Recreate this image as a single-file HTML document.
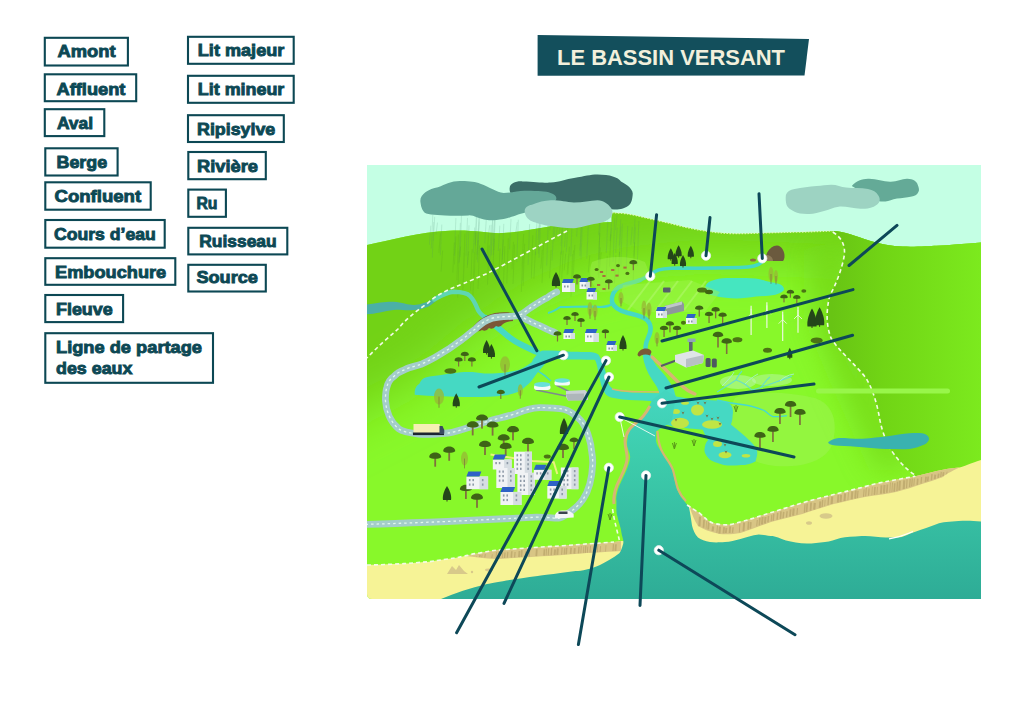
<!DOCTYPE html>
<html><head><meta charset="utf-8">
<style>
html,body{margin:0;padding:0;background:#fff;}
body{width:1024px;height:724px;overflow:hidden;position:relative;}
svg{position:absolute;left:0;top:0;}
.lb{font-family:"Liberation Sans",sans-serif;font-weight:bold;font-size:17.4px;fill:#0c4854;stroke:#0c4854;stroke-width:0.9px;}
.bx{fill:none;stroke:#0c4854;stroke-width:2.1;}
.pl{stroke:#0d4858;stroke-width:3;stroke-linecap:round;fill:none;}
.rd{fill:none;stroke:#a4cdca;stroke-width:6.8;stroke-linecap:round;stroke-linejoin:round;}
.rdd{fill:none;stroke:#e2faec;stroke-width:1.3;stroke-dasharray:2.5 3;}
.wl{fill:none;stroke:#f2fbe6;stroke-width:1.6;stroke-dasharray:4 3;}
.tr{fill:#2f5a12;}
</style></head>
<body>
<svg width="1024" height="724" viewBox="0 0 1024 724">
<defs>
  <clipPath id="ill"><path d="M367 165H981V599H372Q367 599 367 594Z"/></clipPath>
  <clipPath id="landclip"><path d="M367 245 C390 240 420 232 449 230.7 C475 229.5 490 234 503 233 C520 232 535 229 552 226 L580 222 L600 222.5 L611.7 222 L611.7 212.7 C620 213 625 213.5 629.3 214.2 C636 215.5 642 217 648.8 218.5 C655 220 662 221.5 668.4 223 C678 225.5 688 228 697.7 229.8 C710 232 722 233.5 736 233.7 C755 233.5 775 232.5 794 232.2 C808 232 820 231.5 832.5 231 C845 231.5 855 236 869.8 240.7 C880 244 892 246 903 246.5 C915 247 930 246 936.2 245.7 C950 245 965 243.5 981 242.4 L981 599 L367 599 Z"/></clipPath>
  <clipPath id="rclip"><path d="M832.5 231 C845 231.5 855 236 869.8 240.7 C880 244 892 246 903 246.5 C915 247 930 246 936.2 245.7 C950 245 965 243.5 981 242.4 L981 599 L915 599 L915 475 C910 472 903 466 897 458 C890 450 882 435 879 415 C876 400 872 388 866 378 C855 364 838 350 831 338 C826 325 826 310 830 295 C836 285 842 268 844 257 C846 246 842 238 832.5 231 Z"/></clipPath>
  <filter id="bl18" x="-30%" y="-30%" width="160%" height="160%"><feGaussianBlur stdDeviation="16"/></filter>
  <filter id="bl26" x="-30%" y="-30%" width="160%" height="160%"><feGaussianBlur stdDeviation="26"/></filter>
  <filter id="bl6" x="-30%" y="-30%" width="160%" height="160%"><feGaussianBlur stdDeviation="6"/></filter>
  <linearGradient id="hillr" x1="832" y1="0" x2="981" y2="0" gradientUnits="userSpaceOnUse">
    <stop offset="0" stop-color="#68c414"/>
    <stop offset="0.35" stop-color="#71d515"/>
    <stop offset="1" stop-color="#7cea1e"/>
  </linearGradient>
  <linearGradient id="sea" x1="0" y1="395" x2="0" y2="599" gradientUnits="userSpaceOnUse">
    <stop offset="0" stop-color="#44d6bf"/>
    <stop offset="0.3" stop-color="#3dcdac"/>
    <stop offset="1" stop-color="#2eac96"/>
  </linearGradient>
</defs>
<g id="labels"><rect class="bx" x="44.8" y="37.8" width="83.1" height="27.7"/>
<text class="lb" x="57.5" y="57.2" textLength="58.1" lengthAdjust="spacingAndGlyphs">Amont</text>
<rect class="bx" x="44.8" y="74.3" width="91.4" height="26.9"/>
<text class="lb" x="56.5" y="94.9" textLength="68.9" lengthAdjust="spacingAndGlyphs">Affluent</text>
<rect class="bx" x="44.8" y="109.2" width="59.5" height="26.9"/>
<text class="lb" x="56.9" y="128.6" textLength="36.2" lengthAdjust="spacingAndGlyphs">Aval</text>
<rect class="bx" x="45.3" y="148.3" width="72.3" height="27.2"/>
<text class="lb" x="56.5" y="168.2" textLength="50.7" lengthAdjust="spacingAndGlyphs">Berge</text>
<rect class="bx" x="45.3" y="182.3" width="105.4" height="27.4"/>
<text class="lb" x="54.5" y="201.9" textLength="86.6" lengthAdjust="spacingAndGlyphs">Confluent</text>
<rect class="bx" x="45.3" y="220.0" width="119.4" height="27.7"/>
<text class="lb" x="53.9" y="239.6" textLength="102.0" lengthAdjust="spacingAndGlyphs">Cours d’eau</text>
<rect class="bx" x="45.3" y="258.2" width="130.0" height="26.6"/>
<text class="lb" x="55.0" y="277.6" textLength="111.2" lengthAdjust="spacingAndGlyphs">Embouchure</text>
<rect class="bx" x="45.3" y="295.0" width="77.8" height="27.1"/>
<text class="lb" x="56.0" y="315.4" textLength="56.6" lengthAdjust="spacingAndGlyphs">Fleuve</text>
<rect class="bx" x="45.3" y="333.2" width="167.7" height="49.6"/>
<text class="lb" x="56.0" y="353.0" textLength="146.0" lengthAdjust="spacingAndGlyphs">Ligne de partage</text>
<text class="lb" x="56.0" y="374.2" textLength="76.4" lengthAdjust="spacingAndGlyphs">des eaux</text>
<rect class="bx" x="188.0" y="36.8" width="105.7" height="27.0"/>
<text class="lb" x="197.8" y="56.1" textLength="86.5" lengthAdjust="spacingAndGlyphs">Lit majeur</text>
<rect class="bx" x="188.0" y="75.8" width="105.7" height="27.0"/>
<text class="lb" x="197.8" y="95.1" textLength="86.5" lengthAdjust="spacingAndGlyphs">Lit mineur</text>
<rect class="bx" x="188.0" y="115.2" width="95.8" height="26.8"/>
<text class="lb" x="197.0" y="134.9" textLength="78.3" lengthAdjust="spacingAndGlyphs">Ripisylve</text>
<rect class="bx" x="188.3" y="152.0" width="77.5" height="27.2"/>
<text class="lb" x="197.0" y="171.6" textLength="61.0" lengthAdjust="spacingAndGlyphs">Rivière</text>
<rect class="bx" x="188.3" y="189.6" width="37.6" height="27.2"/>
<text class="lb" x="196.4" y="208.6" textLength="21.1" lengthAdjust="spacingAndGlyphs">Ru</text>
<rect class="bx" x="188.3" y="227.8" width="99.0" height="26.6"/>
<text class="lb" x="199.2" y="246.8" textLength="77.5" lengthAdjust="spacingAndGlyphs">Ruisseau</text>
<rect class="bx" x="188.3" y="264.8" width="77.5" height="26.7"/>
<text class="lb" x="196.4" y="283.2" textLength="61.6" lengthAdjust="spacingAndGlyphs">Source</text></g>
<g id="title">
  <path d="M537.6 35L809 39L804.5 75.5L537.6 75.7Z" fill="#134f5c"/>
  <text x="557" y="65.2" font-family="Liberation Sans" font-weight="bold" font-size="22" fill="#f2f0dc" textLength="228" lengthAdjust="spacingAndGlyphs">LE BASSIN VERSANT</text>
</g>
<g clip-path="url(#ill)"><rect x="367" y="165" width="614" height="434" fill="#c4ffe4"/>
<path d="M367 245 C390 240 420 232 449 230.7 C475 229.5 490 234 503 233 C520 232 535 229 552 226 L580 222 L600 222.5 L611.7 222 L611.7 212.7 C620 213 625 213.5 629.3 214.2 C636 215.5 642 217 648.8 218.5 C655 220 662 221.5 668.4 223 C678 225.5 688 228 697.7 229.8 C710 232 722 233.5 736 233.7 C755 233.5 775 232.5 794 232.2 C808 232 820 231.5 832.5 231 C845 231.5 855 236 869.8 240.7 C880 244 892 246 903 246.5 C915 247 930 246 936.2 245.7 C950 245 965 243.5 981 242.4 L981 599 L367 599 Z" fill="#88f82a"/>
<g clip-path="url(#landclip)"><path filter="url(#bl26)" fill="#72d214" d="M300 120 L1000 120 L1000 262 L840 262 L700 256 L610 266 L545 288 L480 328 L420 378 L300 440 Z"/></g>
<g clip-path="url(#landclip)"><path filter="url(#bl18)" fill="#70d016" opacity="0.8" d="M840 240 L850 300 L880 390 L910 470 L880 470 L840 380 L815 320 L815 250 Z"/></g>
<path d="M832.5 231 C845 231.5 855 236 869.8 240.7 C880 244 892 246 903 246.5 C915 247 930 246 936.2 245.7 C950 245 965 243.5 981 242.4 L981 599 L915 599 L915 475 C910 472 903 466 897 458 C890 450 882 435 879 415 C876 400 872 388 866 378 C855 364 838 350 831 338 C826 325 826 310 830 295 C836 285 842 268 844 257 C846 246 842 238 832.5 231 Z" fill="url(#hillr)"/>
<g stroke="#4f8a72" stroke-width="0.6" opacity="0.28">
<line x1="479.2" y1="221.6" x2="477.7" y2="244.6"/>
<line x1="557.8" y1="222.8" x2="556.3" y2="235.1"/>
<line x1="430.8" y1="225.7" x2="429.3" y2="244.8"/>
<line x1="478.4" y1="227.9" x2="476.9" y2="254.4"/>
<line x1="607.8" y1="220.7" x2="606.3" y2="253.0"/>
<line x1="460.4" y1="222.9" x2="458.9" y2="263.3"/>
<line x1="540.5" y1="224.4" x2="539.0" y2="257.9"/>
<line x1="441.8" y1="224.6" x2="440.3" y2="255.3"/>
<line x1="492.8" y1="214.4" x2="491.3" y2="254.7"/>
<line x1="529.6" y1="224.1" x2="528.1" y2="264.8"/>
<line x1="581.5" y1="226.9" x2="580.0" y2="250.7"/>
<line x1="600.2" y1="220.2" x2="598.7" y2="263.0"/>
<line x1="617.0" y1="215.4" x2="615.5" y2="230.1"/>
<line x1="474.7" y1="227.5" x2="473.2" y2="252.8"/>
<line x1="562.7" y1="218.2" x2="561.2" y2="246.0"/>
<line x1="511.0" y1="218.9" x2="509.5" y2="249.4"/>
<line x1="553.6" y1="226.7" x2="552.1" y2="260.5"/>
<line x1="627.7" y1="226.0" x2="626.2" y2="270.7"/>
<line x1="572.3" y1="216.3" x2="570.8" y2="256.4"/>
<line x1="635.4" y1="226.7" x2="633.9" y2="256.6"/>
<line x1="581.5" y1="217.0" x2="580.0" y2="256.1"/>
<line x1="551.3" y1="218.0" x2="549.8" y2="230.2"/>
<line x1="611.6" y1="227.9" x2="610.1" y2="241.0"/>
<line x1="600.1" y1="219.7" x2="598.6" y2="235.0"/>
<line x1="491.2" y1="224.8" x2="489.7" y2="265.3"/>
<line x1="437.5" y1="222.6" x2="436.0" y2="234.2"/>
<line x1="582.5" y1="218.6" x2="581.0" y2="259.5"/>
<line x1="638.8" y1="221.1" x2="637.3" y2="266.0"/>
<line x1="494.6" y1="215.1" x2="493.1" y2="246.1"/>
<line x1="434.7" y1="216.8" x2="433.2" y2="241.0"/>
<line x1="559.3" y1="216.2" x2="557.8" y2="227.7"/>
<line x1="614.6" y1="218.4" x2="613.1" y2="261.9"/>
<line x1="620.8" y1="219.3" x2="619.3" y2="245.4"/>
<line x1="539.8" y1="223.0" x2="538.3" y2="253.9"/>
<line x1="548.2" y1="222.7" x2="546.7" y2="265.6"/>
<line x1="537.0" y1="220.0" x2="535.5" y2="255.2"/>
<line x1="479.1" y1="218.2" x2="477.6" y2="262.4"/>
<line x1="540.0" y1="221.7" x2="538.5" y2="232.1"/>
<line x1="517.3" y1="222.1" x2="515.8" y2="232.8"/>
<line x1="560.4" y1="222.9" x2="558.9" y2="235.0"/>
<line x1="562.9" y1="220.5" x2="561.4" y2="254.3"/>
<line x1="503.8" y1="223.9" x2="502.3" y2="259.7"/>
<line x1="432.8" y1="214.8" x2="431.3" y2="248.5"/>
<line x1="635.1" y1="217.5" x2="633.6" y2="243.5"/>
<line x1="555.4" y1="218.5" x2="553.9" y2="241.2"/>
<line x1="495.2" y1="219.2" x2="493.7" y2="250.0"/>
<line x1="492.6" y1="219.3" x2="491.1" y2="256.3"/>
<line x1="433.8" y1="222.0" x2="432.3" y2="257.7"/>
<line x1="494.7" y1="217.1" x2="493.2" y2="255.2"/>
<line x1="479.3" y1="216.6" x2="477.8" y2="241.9"/>
<line x1="578.1" y1="215.4" x2="576.6" y2="236.7"/>
<line x1="499.8" y1="225.7" x2="498.3" y2="251.0"/>
<line x1="611.9" y1="216.4" x2="610.4" y2="238.2"/>
<line x1="567.8" y1="226.4" x2="566.3" y2="252.2"/>
<line x1="476.4" y1="215.7" x2="474.9" y2="244.2"/>
<line x1="469.0" y1="225.3" x2="467.5" y2="264.6"/>
<line x1="467.5" y1="217.9" x2="466.0" y2="256.2"/>
<line x1="566.0" y1="225.3" x2="564.5" y2="247.4"/>
<line x1="455.9" y1="218.1" x2="454.4" y2="255.9"/>
<line x1="486.3" y1="218.8" x2="484.8" y2="243.4"/>
<line x1="518.3" y1="219.7" x2="516.8" y2="262.0"/>
<line x1="461.5" y1="214.1" x2="460.0" y2="257.1"/>
<line x1="617.2" y1="227.8" x2="615.7" y2="253.0"/>
<line x1="632.3" y1="227.0" x2="630.8" y2="244.8"/>
<line x1="588.3" y1="225.7" x2="586.8" y2="258.9"/>
<line x1="539.6" y1="218.0" x2="538.1" y2="240.0"/>
<line x1="476.9" y1="215.0" x2="475.4" y2="245.6"/>
<line x1="489.7" y1="225.3" x2="488.2" y2="236.9"/>
<line x1="622.3" y1="223.7" x2="620.8" y2="266.0"/>
<line x1="620.8" y1="226.6" x2="619.3" y2="256.8"/>
</g><g stroke="#4e9a1e" stroke-width="1" opacity="0.18">
<line x1="442.6" y1="250.6" x2="441.1" y2="271.6"/>
<line x1="500.0" y1="248.6" x2="498.5" y2="281.9"/>
<line x1="522.8" y1="255.5" x2="521.3" y2="291.9"/>
<line x1="508.3" y1="238.3" x2="506.8" y2="283.5"/>
<line x1="535.4" y1="251.6" x2="533.9" y2="278.9"/>
<line x1="479.5" y1="245.4" x2="478.0" y2="289.0"/>
<line x1="474.3" y1="251.8" x2="472.8" y2="299.1"/>
<line x1="601.2" y1="252.6" x2="599.7" y2="267.9"/>
<line x1="565.7" y1="253.6" x2="564.2" y2="270.3"/>
<line x1="494.3" y1="238.7" x2="492.8" y2="272.2"/>
<line x1="524.6" y1="243.8" x2="523.1" y2="286.0"/>
<line x1="440.4" y1="233.4" x2="438.9" y2="252.8"/>
<line x1="464.9" y1="233.7" x2="463.4" y2="282.8"/>
<line x1="610.9" y1="234.2" x2="609.4" y2="266.7"/>
<line x1="503.2" y1="239.9" x2="501.7" y2="267.2"/>
<line x1="569.4" y1="246.7" x2="567.9" y2="274.3"/>
<line x1="478.2" y1="240.2" x2="476.7" y2="259.6"/>
<line x1="551.1" y1="249.9" x2="549.6" y2="278.2"/>
<line x1="456.0" y1="236.5" x2="454.5" y2="264.5"/>
<line x1="560.9" y1="251.6" x2="559.4" y2="279.9"/>
<line x1="600.2" y1="247.6" x2="598.7" y2="277.7"/>
<line x1="514.5" y1="244.4" x2="513.0" y2="284.0"/>
<line x1="524.1" y1="249.4" x2="522.6" y2="280.5"/>
<line x1="489.0" y1="245.4" x2="487.5" y2="284.7"/>
<line x1="454.3" y1="242.6" x2="452.8" y2="272.5"/>
<line x1="615.9" y1="255.4" x2="614.4" y2="283.5"/>
<line x1="619.6" y1="251.8" x2="618.1" y2="275.9"/>
<line x1="532.8" y1="235.1" x2="531.3" y2="278.5"/>
<line x1="572.5" y1="254.2" x2="571.0" y2="296.9"/>
<line x1="573.5" y1="250.3" x2="572.0" y2="285.1"/>
<line x1="460.6" y1="246.7" x2="459.1" y2="261.9"/>
<line x1="468.7" y1="251.4" x2="467.2" y2="267.9"/>
<line x1="458.4" y1="234.5" x2="456.9" y2="280.3"/>
<line x1="475.8" y1="232.6" x2="474.3" y2="277.0"/>
<line x1="464.3" y1="253.1" x2="462.8" y2="291.7"/>
<line x1="607.2" y1="255.8" x2="605.7" y2="291.1"/>
<line x1="599.7" y1="232.9" x2="598.2" y2="274.8"/>
<line x1="542.3" y1="249.9" x2="540.8" y2="268.6"/>
<line x1="589.8" y1="255.4" x2="588.3" y2="272.5"/>
<line x1="504.8" y1="246.1" x2="503.3" y2="290.1"/>
<line x1="488.4" y1="236.5" x2="486.9" y2="260.2"/>
<line x1="563.2" y1="250.8" x2="561.7" y2="279.6"/>
<line x1="513.5" y1="241.9" x2="512.0" y2="269.2"/>
<line x1="523.6" y1="234.1" x2="522.1" y2="266.6"/>
<line x1="634.6" y1="242.3" x2="633.1" y2="283.5"/>
<line x1="472.1" y1="249.3" x2="470.6" y2="290.7"/>
<line x1="574.8" y1="244.9" x2="573.3" y2="276.9"/>
<line x1="568.6" y1="254.4" x2="567.1" y2="274.7"/>
<line x1="459.2" y1="250.7" x2="457.7" y2="297.8"/>
<line x1="543.5" y1="243.1" x2="542.0" y2="283.2"/>
</g>
<path d="M611.7 212.7 C620 213 625 213.5 629.3 214.2 C636 215.5 642 217 648.8 218.5 C655 220 662 221.5 668.4 223 C678 225.5 688 228 697.7 229.8 C710 232 722 233.5 736 233.7 C755 233.5 775 232.5 794 232.2 C808 232 820 231.5 832.5 231" fill="none" stroke="#e6f6c0" stroke-width="1.3" stroke-dasharray="1.6 1.4" opacity="0.9"/>
<path fill="#9ef454" opacity="0.5" d="M735 398 C755 390 790 392 815 398 C835 405 838 425 832 445 C825 462 800 468 775 466 C755 464 740 455 735 440 C730 425 728 408 735 398 Z"/>
<path fill="#4bb0a6" d="M367 304.6 C378 303 386 301.5 393.6 301.8 C402 302.5 408 305 414 305 C420 305 425 302.5 428 301.8 C431 300 433 299 435 298.5 L436 301 C432 304 430 306 428 306.7 C422 309 418 310 414 310 C405 311 400 309 393.6 310 C385 311 375 314 367 314.3 Z"/>
<path fill="none" stroke="#5ed6b2" stroke-width="4.5" stroke-linecap="round" d="M434 299.5 C442 295 448 292 454 291.8 C462 292 467 293 470 296 C474 300 476 305 478 310 C480 314 483 316 486 318"/>
<path fill="none" stroke="#45d9c3" stroke-width="6" stroke-linecap="round" d="M486 318 C491 322 494 325 497 327 C501 330 505 334 509 337 C514 341 518 343 522 345 C528 348 532 350 537 352"/>
<path fill="#45d9c3" d="M414.7 391.6 C415 388 417 385 419.4 383.75 C421 380 423 378.5 425.6 377.5 C431 376 436 375.5 441.25 375 C447 374 452 373 457 372.8 C462 372 467 372 472.5 372 C478 372.5 483 373.5 488 373.6 C494 373.5 499 373 503.75 372.8 C509 372 514 371 519.4 369.7 C525 367 529 364 532 361.9 C533 359 534 358 535 357 C537 354.5 540 351 543 350.6 C550 350.3 558 350.6 567.3 351.6 C577 352 586 352 592 352.3 C596 353 598 354 598.8 355 C601 359 603 363 604.3 367.3 C606 373 607 379 608.4 383.75 C610 387 613 389.5 616.6 390.6 C622 392 628 392.5 635.7 392.6 C644 393 652 393 660.3 393.3 L663 401.5 C654 401.5 645 400.5 635.7 400.2 C627 400 618 399 611 397.4 C607 396 605 394 604.3 392 C602 388 601 385 600.2 381 C599 376 598 371 597.4 367.3 C596.5 364 596 361 594.7 359.8 C585 359.5 575 359.5 567 359.5 C560 359 555 359 550.6 358.75 C547 361 545 364 542.8 366.6 C540 370 537 373 535 376 C532 380 531 382 528.75 383.75 C525 387 522 390 519.4 391.6 C513 394 508 395 503.75 395.5 C495 396.5 485 397 472.5 397 C460 397 450 396.5 441.25 396.25 C432 396 422 395.5 414.7 394.7 Z"/>
<path fill="none" stroke="#45d9c3" stroke-width="1.5" d="M538 371 C543 374 547 377 551 381"/>
<path fill="none" stroke="#45d9c3" stroke-width="3.5" stroke-linecap="round" d="M762 262 C758 266 752 267 740 267.5 C720 268 700 268.5 680 268 C668 268 660 268.5 655 271.5 C650 275 645 278 640 280"/>
<path fill="none" stroke="#45d9c3" stroke-width="4.5" stroke-linecap="round" d="M640 280 C632 283 625 284 619 287 C614 290 611 296 612 302 C614 308 620 311 628 313 C636 315 642 316 647 320 C652 325 651 332 648 338 C645 344 645 349 646 354"/>
<path fill="#45d9c3" d="M642 352 L650 352 C652 360 656 366 662 372 C667 378 671 383 674 390 L676 398 L660 399 C660 393 658 388 655 384 C650 377 646 370 644 362 Z"/>
<path fill="none" stroke="#45d9c3" stroke-width="2.2" d="M560 307 C575 307 590 306 600 307 C606 307 610 306 614 303"/>
<path fill="none" stroke="#45d9c3" stroke-width="1.8" d="M560 307 C556 310 553 312 548 313"/>
<path fill="#45e6c0" d="M705.2 286.9 C706 284 708 282 711 281 C716 279 721 278 726.7 278 C733 278 740 278 746.25 278 C753 278 760 279 765.8 281 C772 282.5 778 283 781.4 285 C784 287 784.5 289 783.4 290.8 C781 293 778 294 775.5 294.7 C769 296 762 296 756 296.6 C750 297.5 743 298.6 736.5 298.6 C729 298.6 722 297.5 717 296.6 C712 295.5 709 294.5 707 292.7 C705.5 291 705 289 705.2 286.9 Z"/>
<path fill="#45d9c3" d="M660 393 C663 394 665 394.5 667.6 394.6 C673 396 679 397.5 685 398 C691 399 697 399.5 702.7 400 C709 400 715 400.5 720.3 400.8 C725 401.5 729 403 730.9 405 C733 408 733.5 412 732.6 415.7 C732.5 419 732 422 730.9 424.5 C738 430 745 436 750 441 C755 446 758 450 757.2 454.4 C756.5 458 756 460 755.5 461.4 C750 464 746 465 741.4 465 C735 465.5 729 466 723.8 465 C717 463 712 461.5 709.8 459.6 C706 456 704 452 704.5 449 C705 445 706 442 708 440.3 C705 436 704 432 702.7 429.8 C696 429 690 428.5 685 428 C680 427.5 676 427 672.8 426.2 C668 425 664 424 660.5 422.7 Z"/>
<ellipse cx="676" cy="411.5" rx="4" ry="2.5" fill="#c0e545"/>
<ellipse cx="680" cy="423" rx="9" ry="5.2" fill="#c0e545"/>
<ellipse cx="697.5" cy="410" rx="6.5" ry="5.5" fill="#c0e545"/>
<ellipse cx="712" cy="424.5" rx="10" ry="4.3" fill="#c0e545"/>
<ellipse cx="717.5" cy="444" rx="4.5" ry="3" fill="#c0e545"/>
<ellipse cx="725" cy="455" rx="6.5" ry="3.2" fill="#c0e545"/>
<ellipse cx="746" cy="455.7" rx="4.3" ry="1.8" fill="#c0e545"/>
<ellipse cx="685" cy="403" rx="4" ry="1.8" fill="#c0e545"/>
<path fill="#7a6a3a" d="M681.5 411.5 L683 414.5 L684.5 411.5 L683 412.5Z"/>
<path fill="#7a6a3a" d="M705.5 414.5 L707 417.5 L708.5 414.5 L707 415.5Z"/>
<path fill="#7a6a3a" d="M710.5 417.5 L712 420.5 L713.5 417.5 L712 418.5Z"/>
<path fill="#7a6a3a" d="M716.5 416.5 L718 419.5 L719.5 416.5 L718 417.5Z"/>
<path fill="#7a6a3a" d="M718.5 422.5 L720 425.5 L721.5 422.5 L720 423.5Z"/>
<path fill="#7a6a3a" d="M723.5 443.5 L725 446.5 L726.5 443.5 L725 444.5Z"/>
<path fill="#7a6a3a" d="M696.5 401.5 L698 404.5 L699.5 401.5 L698 402.5Z"/>
<path fill="#7a6a3a" d="M703.5 401.5 L705 404.5 L706.5 401.5 L705 402.5Z"/>
<path fill="#7a6a3a" d="M724.5 450.5 L726 453.5 L727.5 450.5 L726 451.5Z"/>
<path fill="#7a6a3a" d="M674.5 418.5 L676 421.5 L677.5 418.5 L676 419.5Z"/>
<path fill="none" stroke="#46d8d0" stroke-width="1.3" d="M716.8 400 C725 402 735 404 745 405 C752 406 758 408 764 410.4 C768 413 770 416 773 416.6 C778 417 783 416 787 415.7"/>
<ellipse cx="738" cy="382" rx="18" ry="7" fill="#c6f6c8" opacity="0.45"/><ellipse cx="772" cy="380" rx="20" ry="6" fill="#c6f6c8" opacity="0.4"/>
<path fill="none" stroke="#5edcd0" stroke-width="1.1" opacity="0.9" d="M717 392 C724 388 730 384 736 380 M736 380 C738 376 740 373 742 371 M736 380 C742 382 748 386 752 390 M752 390 C760 388 768 385 776 382 C782 380 788 378 792 376 M760 388 C764 384 766 380 770 377"/>
<path fill="none" stroke="#a8f0e0" stroke-width="1" opacity="0.8" d="M722 386 C728 380 732 376 734 372 M745 384 C750 379 754 376 758 374 M780 381 C784 377 788 375 794 374"/>
<path d="M567 231 C540 245 510 262 486 274 C470 281 455 287 449 289.5 C440 294 434 297 428 303 C415 312 405 320 398 329 C388 338 376 348 367 358" class="wl"/>
<path d="M832.8 232 C842 238 846 246 844 257 C842 268 836 285 830 295 C826 310 826 325 831 338 C838 350 855 364 866 378 C872 388 876 400 879 415 C882 435 890 450 897 458 C903 466 910 472 915 475" class="wl"/>
<path fill="#7b5636" d="M473 327 C478 320 486 315 495 313 C501 312 507 312 513 313 L513 321 C509 321 506 322 503 324 Q500 328 496 326 Q493 330 489 328 Q486 332 482 330 Q479 332 476 331 Z"/>
<path class="rd" d="M360 524.5 C420 523 480 520 536 517.2 C550 517 556 519 559.5 518 C566 516 578 507 583 499.4 C588 492 592 480 592.7 464 C593 455 591 450 590.8 444.7 C589 437 587 431 585 427 C582 421 579 418 575 415.4 C570 411 565 409 559.5 408.6 C552 408 545 407.5 540 407.6 C530 408 522 411 516 413.7 C505 417 495 419 487 421.5 C472 426 458 432 448 433 C438 434 428 435 418.6 434 C410 433 403 432 399 429 C390 422 386 410 385.4 400 C385.5 393 386 390 386.8 387.5 C388 382 390 379 393.7 376.6 C397 373 401 371 404.6 369.7 C410 367 416 366 421 364.3 C426 362 430 360 434.7 357.4 C439 355 444 352 448.4 349.2 C453 346 457 343 462 339.6 C467 336 471 332 475.7 328.7 C479 325.5 483 322 486.6 320.5 C490 318.5 495 317.3 499 317 C503 316.6 507 316.5 511.3 316.4 C514 316.2 517 315.8 520 315 "/>
<path class="rd" stroke-width="4.6" d="M520 315 C524 313 527 310 530.3 307.9 C536 304 542 300 547.9 297.3 C551 295 554 293 556.7 292"/>
<path class="rd" stroke-width="4.5" d="M519 316 C525 318 530 322 539 325.4 C545 328 550 331 555 332.5"/>
<path class="rdd" d="M360 524.5 C420 523 480 520 536 517.2 C550 517 556 519 559.5 518 C566 516 578 507 583 499.4 C588 492 592 480 592.7 464 C593 455 591 450 590.8 444.7 C589 437 587 431 585 427 C582 421 579 418 575 415.4 C570 411 565 409 559.5 408.6 C552 408 545 407.5 540 407.6 C530 408 522 411 516 413.7 C505 417 495 419 487 421.5 C472 426 458 432 448 433 C438 434 428 435 418.6 434 C410 433 403 432 399 429 C390 422 386 410 385.4 400 C385.5 393 386 390 386.8 387.5 C388 382 390 379 393.7 376.6 C397 373 401 371 404.6 369.7 C410 367 416 366 421 364.3 C426 362 430 360 434.7 357.4 C439 355 444 352 448.4 349.2 C453 346 457 343 462 339.6 C467 336 471 332 475.7 328.7 C479 325.5 483 322 486.6 320.5 C490 318.5 495 317.3 499 317 C503 316.6 507 316.5 511.3 316.4 C514 316.2 517 315.8 520 315 "/>
<path class="rdd" stroke-width="1" d="M520 315 C524 313 527 310 530.3 307.9 C536 304 542 300 547.9 297.3 C551 295 554 293 556.7 292"/>
<path class="rdd" d="M519 316 C525 318 530 322 539 325.4 C545 328 550 331 555 332.5"/>
<path d="M367 565 C380 565 395 564 404 563.6 C415 563 422 562 429.5 561.7 C440 560 448 559 455 558 C460 557 464 556 467.6 555.4 C472 554 476 553.5 480.3 552.9 C490 551 493 550.5 496 550.3 C512 549 540 547 563 545.7 C585 544 600 543 614 542 L621 541 L627 541 L627 599 L367 599 Z" fill="#f6f396"/>
<path d="M687 505 C692 508 696 511 699.4 513 C705 518 709 522 712.7 523 C720 525 725 525 729 524.8 C735 524 738 522.5 740 522 C748 520 754 518 760 516 C780 510 800 503 820 498 C840 493 860 488 873.8 484.2 C885 481.5 895 480 901.4 478.7 C910 477 915 476.5 915.3 476.2 C925 474 935 471 943 469.7 C950 468.5 956 468 959.5 467.6 C965 466 970 463.5 981 460 L981 599 L684 599 Z" fill="#f6f396"/>
<path d="M652 400 C648 410 644 416 638.6 420 C632 426 628 430 627 443 C627 450 631 453 630 458.6 C629 466 624 476 619.3 485.7 C616 494 616 500 616.4 501 C616.5 508 616 512 617.4 516.6 C619 524 621 528 621.3 532 C622 537 624 540 623.2 543.7 C622 548 621 551 619.3 553.3 C613 558 606 562 600 565 C590 569 582 571 575.7 571 C560 573 545 575 537.7 576 C515 579 496 582 487 584 C470 588 455 593 441 599 L981 599 L981 521.5 C972 520.5 965 520.5 958.5 521 C950 521.5 942 522 937 524 C930 526.5 922 529.5 916 531.5 C908 534 903 537.5 898 537.5 C893 537.5 890 537.5 886 537.5 C878 537 870 535.5 861.6 536 C853 536.5 846 537 840.5 538 C835 539.5 830 542 825 542 C819 542.5 813 543.6 807 543.6 C799 543.5 792 542 786 540.5 C780 538.5 776 536 770.8 536 C765 535.5 762 534.5 758.7 534.5 C752 535 746 537.5 740.5 539 C735 540.5 730 542 725 542 C718 542.5 714 542.5 710 542 C705 541 701 539.5 698 537.5 C695 534 693 530 692 525.4 C691 518 690 512 688.9 507 C686 503 683 500 681.2 497.3 C678 492 676 488 675.4 483.8 C674 477 673 472 671.5 468.3 C668 462 664 457 661.8 452.8 C659 448 656 444 656 439.3 C656 436 656 433 656 431.6 C660 428 668 426 672 420 L676 396 L665 390 Z" fill="url(#sea)"/>
<path d="M465 556 C475 554 485 552 496 550.3 C512 549 540 547 563 545.7 C585 544 600 543 614 542 L621 541 L621 551 C605 552 585 553 563 555 C540 556.5 512 558 496 559 C485 558.5 475 557 465 556 Z" fill="#d8c585"/>
<path d="M687 505 C692 508 696 511 699.4 513 C705 518 709 522 712.7 523 C720 525 725 525 729 524.8 C735 524 738 522.5 740 522 C748 520 754 518 760 516 C780 510 800 503 820 498 C840 493 860 488 873.8 484.2 C885 481.5 895 480 901.4 478.7 C910 477 915 476.5 915.3 476.2 C925 474 935 471 943 469.7 C950 468.5 956 468 959.5 467.6 C950 472 945 475 943 477 C935 480 928 482 922 484 C913 487 904 490 896 492 C886 494 875 495.5 865 497 C855 499 845 501.5 833.75 504 C823 507 812 511 802.5 514 C792 517 781 519 771 522 C760 526 750 530 740.5 533 C733 534.5 725 534.5 719.4 534 C710 532 703 529 698 526 C694 520 692 514 690 508 Z" fill="#d8c585"/>
<g stroke="#b09a60" opacity="0.55">
<line x1="476.8" y1="556.6" x2="476.3" y2="556.6" stroke-width="0.9"/>
<line x1="480.1" y1="554.8" x2="479.6" y2="557.0" stroke-width="1.5"/>
<line x1="482.2" y1="554.5" x2="481.7" y2="557.2" stroke-width="0.9"/>
<line x1="485.3" y1="554.0" x2="484.8" y2="557.5" stroke-width="1.1"/>
<line x1="492.3" y1="554.4" x2="491.8" y2="558.1" stroke-width="0.9"/>
<line x1="496.5" y1="552.1" x2="496.0" y2="558.5" stroke-width="1.0"/>
<line x1="499.2" y1="551.9" x2="498.7" y2="558.3" stroke-width="1.6"/>
<line x1="502.8" y1="552.4" x2="502.3" y2="558.1" stroke-width="0.9"/>
<line x1="505.0" y1="552.5" x2="504.5" y2="558.0" stroke-width="1.4"/>
<line x1="507.8" y1="551.9" x2="507.3" y2="557.8" stroke-width="1.2"/>
<line x1="511.8" y1="551.2" x2="511.3" y2="557.6" stroke-width="1.6"/>
<line x1="515.1" y1="552.0" x2="514.6" y2="557.4" stroke-width="1.2"/>
<line x1="519.5" y1="551.0" x2="519.0" y2="557.1" stroke-width="1.9"/>
<line x1="521.9" y1="550.1" x2="521.4" y2="557.0" stroke-width="1.7"/>
<line x1="525.8" y1="551.5" x2="525.3" y2="556.7" stroke-width="1.2"/>
<line x1="529.5" y1="550.7" x2="529.0" y2="556.5" stroke-width="1.4"/>
<line x1="536.8" y1="549.1" x2="536.3" y2="556.1" stroke-width="1.8"/>
<line x1="544.5" y1="549.2" x2="544.0" y2="555.6" stroke-width="1.7"/>
<line x1="546.6" y1="548.7" x2="546.1" y2="555.5" stroke-width="1.0"/>
<line x1="548.7" y1="548.4" x2="548.2" y2="555.4" stroke-width="1.1"/>
<line x1="551.7" y1="548.1" x2="551.2" y2="555.2" stroke-width="1.4"/>
<line x1="555.1" y1="549.4" x2="554.6" y2="555.0" stroke-width="2.0"/>
<line x1="557.8" y1="548.3" x2="557.3" y2="554.8" stroke-width="2.0"/>
<line x1="562.1" y1="547.6" x2="561.6" y2="554.6" stroke-width="1.1"/>
<line x1="564.7" y1="548.3" x2="564.2" y2="554.4" stroke-width="1.2"/>
<line x1="566.7" y1="547.7" x2="566.2" y2="554.2" stroke-width="1.6"/>
<line x1="571.1" y1="547.6" x2="570.6" y2="553.9" stroke-width="1.7"/>
<line x1="574.8" y1="548.1" x2="574.3" y2="553.7" stroke-width="1.9"/>
<line x1="579.0" y1="546.8" x2="578.5" y2="553.4" stroke-width="1.4"/>
<line x1="581.3" y1="546.0" x2="580.8" y2="553.2" stroke-width="0.9"/>
<line x1="583.8" y1="546.4" x2="583.3" y2="553.1" stroke-width="0.9"/>
<line x1="585.8" y1="545.8" x2="585.3" y2="552.9" stroke-width="1.3"/>
<line x1="587.8" y1="546.6" x2="587.3" y2="552.8" stroke-width="1.0"/>
<line x1="590.5" y1="545.9" x2="590.0" y2="552.6" stroke-width="1.0"/>
<line x1="597.8" y1="544.8" x2="597.3" y2="552.1" stroke-width="0.9"/>
<line x1="600.6" y1="546.1" x2="600.1" y2="551.9" stroke-width="1.0"/>
<line x1="606.0" y1="545.2" x2="605.5" y2="551.5" stroke-width="0.8"/>
<line x1="613.5" y1="544.1" x2="613.0" y2="551.0" stroke-width="1.3"/>
<line x1="615.9" y1="544.3" x2="615.4" y2="550.9" stroke-width="1.9"/>
<line x1="700.0" y1="516.6" x2="699.4" y2="526.2" stroke-width="2.2"/>
<line x1="704.1" y1="519.7" x2="703.5" y2="527.8" stroke-width="1.8"/>
<line x1="706.7" y1="520.7" x2="706.1" y2="528.8" stroke-width="0.8"/>
<line x1="708.8" y1="522.1" x2="708.2" y2="529.5" stroke-width="1.8"/>
<line x1="713.2" y1="526.4" x2="712.6" y2="531.2" stroke-width="2.2"/>
<line x1="717.5" y1="525.5" x2="716.9" y2="532.8" stroke-width="1.1"/>
<line x1="720.0" y1="526.6" x2="719.4" y2="533.5" stroke-width="2.1"/>
<line x1="724.1" y1="527.1" x2="723.5" y2="533.3" stroke-width="1.9"/>
<line x1="726.4" y1="527.8" x2="725.8" y2="533.2" stroke-width="1.9"/>
<line x1="730.2" y1="526.3" x2="729.6" y2="533.0" stroke-width="1.9"/>
<line x1="733.1" y1="527.2" x2="732.5" y2="532.9" stroke-width="1.4"/>
<line x1="739.9" y1="523.8" x2="739.3" y2="532.5" stroke-width="1.0"/>
<line x1="744.1" y1="522.6" x2="743.5" y2="531.2" stroke-width="2.0"/>
<line x1="748.6" y1="521.6" x2="748.0" y2="529.6" stroke-width="1.6"/>
<line x1="750.9" y1="522.2" x2="750.3" y2="528.7" stroke-width="1.7"/>
<line x1="757.3" y1="520.0" x2="756.7" y2="526.4" stroke-width="1.1"/>
<line x1="759.9" y1="518.0" x2="759.3" y2="525.5" stroke-width="1.6"/>
<line x1="762.6" y1="517.0" x2="762.0" y2="524.5" stroke-width="2.1"/>
<line x1="765.5" y1="517.0" x2="764.9" y2="523.5" stroke-width="2.1"/>
<line x1="768.5" y1="515.9" x2="767.9" y2="522.4" stroke-width="1.5"/>
<line x1="771.8" y1="514.8" x2="771.2" y2="521.3" stroke-width="1.1"/>
<line x1="773.8" y1="513.7" x2="773.2" y2="520.8" stroke-width="1.5"/>
<line x1="777.7" y1="512.9" x2="777.1" y2="519.8" stroke-width="1.5"/>
<line x1="781.0" y1="511.4" x2="780.4" y2="518.9" stroke-width="1.6"/>
<line x1="783.7" y1="511.9" x2="783.1" y2="518.3" stroke-width="1.5"/>
<line x1="787.1" y1="511.2" x2="786.5" y2="517.4" stroke-width="1.4"/>
<line x1="790.6" y1="509.3" x2="790.0" y2="516.5" stroke-width="1.8"/>
<line x1="793.7" y1="508.3" x2="793.1" y2="515.7" stroke-width="2.1"/>
<line x1="797.5" y1="508.1" x2="796.9" y2="514.8" stroke-width="1.2"/>
<line x1="805.0" y1="504.2" x2="804.4" y2="512.7" stroke-width="1.4"/>
<line x1="807.2" y1="503.5" x2="806.6" y2="512.0" stroke-width="1.7"/>
<line x1="811.1" y1="502.5" x2="810.5" y2="510.7" stroke-width="1.8"/>
<line x1="814.8" y1="502.8" x2="814.2" y2="509.6" stroke-width="2.2"/>
<line x1="820.3" y1="501.4" x2="819.7" y2="507.8" stroke-width="2.0"/>
<line x1="822.7" y1="499.8" x2="822.1" y2="507.0" stroke-width="1.3"/>
<line x1="825.2" y1="499.6" x2="824.6" y2="506.2" stroke-width="0.8"/>
<line x1="828.6" y1="497.3" x2="828.0" y2="505.1" stroke-width="1.3"/>
<line x1="832.2" y1="496.5" x2="831.6" y2="504.0" stroke-width="2.2"/>
<line x1="838.4" y1="494.9" x2="837.8" y2="502.5" stroke-width="1.9"/>
<line x1="841.1" y1="494.9" x2="840.5" y2="501.9" stroke-width="2.1"/>
<line x1="845.1" y1="493.4" x2="844.5" y2="501.0" stroke-width="2.1"/>
<line x1="848.5" y1="492.4" x2="847.9" y2="500.2" stroke-width="0.9"/>
<line x1="852.3" y1="491.4" x2="851.7" y2="499.4" stroke-width="2.1"/>
<line x1="855.8" y1="490.5" x2="855.2" y2="498.6" stroke-width="2.0"/>
<line x1="858.0" y1="490.7" x2="857.4" y2="498.1" stroke-width="1.3"/>
<line x1="864.1" y1="489.3" x2="863.5" y2="496.7" stroke-width="1.1"/>
<line x1="866.3" y1="487.7" x2="865.7" y2="496.3" stroke-width="1.1"/>
<line x1="869.1" y1="488.4" x2="868.5" y2="495.8" stroke-width="1.2"/>
<line x1="872.4" y1="486.8" x2="871.8" y2="495.3" stroke-width="0.8"/>
<line x1="875.0" y1="486.9" x2="874.4" y2="494.9" stroke-width="1.6"/>
<line x1="877.5" y1="486.8" x2="876.9" y2="494.5" stroke-width="0.9"/>
<line x1="881.5" y1="485.2" x2="880.9" y2="493.8" stroke-width="2.0"/>
<line x1="884.5" y1="484.9" x2="883.9" y2="493.4" stroke-width="2.2"/>
<line x1="887.4" y1="484.4" x2="886.8" y2="492.9" stroke-width="1.7"/>
<line x1="890.4" y1="482.5" x2="889.8" y2="492.4" stroke-width="1.0"/>
<line x1="892.5" y1="482.5" x2="891.9" y2="492.1" stroke-width="1.0"/>
<line x1="894.8" y1="483.3" x2="894.2" y2="491.7" stroke-width="1.7"/>
<line x1="897.5" y1="481.6" x2="896.9" y2="491.1" stroke-width="1.4"/>
<line x1="899.9" y1="481.0" x2="899.3" y2="490.3" stroke-width="2.1"/>
<line x1="904.3" y1="480.2" x2="903.7" y2="489.0" stroke-width="2.2"/>
<line x1="907.1" y1="479.2" x2="906.5" y2="488.1" stroke-width="1.3"/>
<line x1="910.2" y1="479.0" x2="909.6" y2="487.1" stroke-width="1.5"/>
<line x1="912.3" y1="478.4" x2="911.7" y2="486.5" stroke-width="1.4"/>
<line x1="914.4" y1="478.5" x2="913.8" y2="485.8" stroke-width="1.1"/>
<line x1="917.8" y1="478.6" x2="917.2" y2="484.8" stroke-width="1.7"/>
<line x1="921.6" y1="477.0" x2="921.0" y2="483.6" stroke-width="1.3"/>
<line x1="926.1" y1="476.6" x2="925.5" y2="482.1" stroke-width="1.7"/>
<line x1="928.2" y1="476.5" x2="927.6" y2="481.4" stroke-width="1.7"/>
<line x1="932.0" y1="474.1" x2="931.4" y2="480.2" stroke-width="1.5"/>
<line x1="935.3" y1="474.6" x2="934.7" y2="479.1" stroke-width="2.0"/>
<line x1="938.7" y1="473.6" x2="938.1" y2="477.9" stroke-width="1.8"/>
<line x1="941.3" y1="471.9" x2="940.7" y2="477.1" stroke-width="1.3"/>
<line x1="943.6" y1="472.2" x2="943.0" y2="476.2" stroke-width="1.7"/>
<line x1="947.1" y1="471.7" x2="946.5" y2="474.3" stroke-width="0.8"/>
</g>
<path fill="#d8c98a" d="M447 574 L452 566 L456 570 L459 565 L464 571 L468 574 Z"/><circle cx="472" cy="572" r="1.2" fill="#d8c98a"/><ellipse cx="489" cy="570" rx="4" ry="1.4" fill="#d8c98a"/>
<ellipse cx="826" cy="516" rx="6.5" ry="2.8" fill="#d8ca8a"/><ellipse cx="809" cy="523" rx="3" ry="1.8" fill="#d8ca8a"/>
<path fill="none" stroke="#ffffff" stroke-width="1.2" d="M889 538.8 C897 537.5 905 535 913 531.5"/>
<path fill="none" stroke="#d6b574" stroke-width="3.2" stroke-linecap="round" d="M652 357 C656 361 662 366 667 371 C672 376 677 381 681 385 C685 389 690 392 695 394"/>
<path fill="none" stroke="#d6b574" stroke-width="1.4" d="M612 389 C620 391 630 391.8 640 391.8 C648 391.8 654 392 659 392"/>
<path fill="none" stroke="#d6b574" stroke-width="3" d="M650 406 C646 413 643 418 637 422 C631 427 626 431 625 441 C625 449 628 454 627 460 C626 468 621 476 617 485 C614 493 613.5 500 614 504"/>
<path fill="none" stroke="#d6b574" stroke-width="2.2" d="M657.5 431 C658 437 658.5 446 663 453 C667 460 671 464 673 470 C675 477 676 483 678 489 C680 494 683 498 686 501"/>
<path fill="none" stroke="#f4fbf4" stroke-width="0.9" d="M619.7 417 L624 437 M619.7 417 L655 436"/>
<path d="M367 565 C380 565 395 564 404 563.6 C415 563 422 562 429.5 561.7 C440 560 448 559 455 558 C460 557 464 556 467.6 555.4 C472 554 476 553.5 480.3 552.9 C490 551 493 550.5 496 550.3 C512 549 540 547 563 545.7 C585 544 600 543 614 542" class="wl" stroke-dasharray="2 2"/>
<path d="M612.6 509 C614 520 617 530 619.3 540" class="wl" stroke-dasharray="2 2"/>
<path d="M687 505 C692 508 696 511 699.4 513 C705 518 709 522 712.7 523 C720 525 725 525 729 524.8 C735 524 738 522.5 740 522 C748 520 754 518 760 516 C780 510 800 503 820 498 C840 493 860 488 873.8 484.2 C885 481.5 895 480 901.4 478.7 C910 477 915 476.5 915.3 476.2" class="wl" stroke-dasharray="2 2"/>
<path fill="#a0f050" opacity="0.45" d="M592 262 C610 255 630 256 645 262 L650 275 C640 284 620 292 600 292 C590 285 588 272 592 262 Z"/>
<path fill="#9cf44a" opacity="0.5" d="M623 285 L690 280 L720 292 L705 312 L640 312 L620 300 Z"/>
<path stroke="#b4f870" stroke-width="2" opacity="0.55" d="M628 310 L650 281"/>
<path stroke="#b4f870" stroke-width="2" opacity="0.55" d="M642 310 L664 281"/>
<path stroke="#b4f870" stroke-width="2" opacity="0.55" d="M656 310 L678 281"/>
<path stroke="#b4f870" stroke-width="2" opacity="0.55" d="M670 310 L692 281"/>
<path stroke="#b4f870" stroke-width="2" opacity="0.55" d="M684 310 L706 281"/>
<rect x="816" y="388.5" width="134" height="5" rx="2.5" fill="#98f64a"/>
<path fill="#39b2b0" d="M828 442.7 C830 440 835 438.5 839 438 C848 438 855 439 862.5 438.75 C872 438 880 437 886 436.4 C895 435.5 903 433.5 909.4 433.3 C915 433 919 433 921.9 433.3 C926 434 929 436 929 438.75 C929 441 927 443 925 444.2 C920 446.5 915 448 909.4 449 C902 449.5 894 449 886 449 C878 449 870 448 862.5 447.3 C854 446.5 846 446 839 445.8 C834 445.5 830 445 828 442.7 Z"/>
<path fill="#6b5a3e" d="M766 258 C766 252 770 248 774 246 C778 244.5 781 246 783 250 C785 254 785 258 783 261 L768 261 Z"/>
<path fill="#8c7a58" d="M760 261 C761 257 764 255 768 255 C771 256 773 258 773 261 Z"/>
<ellipse cx="753" cy="260" rx="3" ry="1.5" fill="#8a6a40"/>
<ellipse cx="771" cy="274" rx="2.5" ry="7.0" fill="#96bc34" opacity="0.8"/><rect x="770.5" y="274" width="1" height="9.8" fill="#80703e" opacity="0.7"/>
<ellipse cx="776" cy="276" rx="2.0" ry="6.0" fill="#96bc34" opacity="0.8"/><rect x="775.5" y="276" width="1" height="8.4" fill="#80703e" opacity="0.7"/>
<path stroke="#5a9a1a" stroke-width="1" fill="none" d="M674.4 449 l-2 -6 M674.4 449 l0 -7 M674.4 449 l2 -6"/>
<path stroke="#5a9a1a" stroke-width="1" fill="none" d="M694 446 l-2 -6 M694 446 l0 -7 M694 446 l2 -6"/>
<path stroke="#5a9a1a" stroke-width="1" fill="none" d="M736 412 l-2 -6 M736 412 l0 -7 M736 412 l2 -6"/>
<path stroke="#5a9a1a" stroke-width="1" fill="none" d="M610 520 l-2 -6 M610 520 l0 -7 M610 520 l2 -6"/>
<rect x="670.3" y="258.2" width="1" height="2.5" fill="#3a3a20"/><path fill="#24461a" d="M670.8 248.2 C672.9 251.5 674.4 255.89999999999998 673.8 259.2 L667.8 259.2 C667.1999999999999 255.89999999999998 668.6999999999999 251.5 670.8 248.2Z"/>
<rect x="678.1" y="255.2" width="1" height="2.5" fill="#3a3a20"/><path fill="#24461a" d="M678.6 245.2 C680.7 248.5 682.2 252.89999999999998 681.6 256.2 L675.6 256.2 C675.0 252.89999999999998 676.5 248.5 678.6 245.2Z"/>
<rect x="674.2" y="263.1" width="1" height="2.5" fill="#3a3a20"/><path fill="#24461a" d="M674.7 253.10000000000002 C676.8000000000001 256.40000000000003 678.3000000000001 260.8 677.7 264.1 L671.7 264.1 C671.1 260.8 672.6 256.40000000000003 674.7 253.10000000000002Z"/>
<rect x="682.5" y="265.0" width="1" height="2.5" fill="#3a3a20"/><path fill="#24461a" d="M683 255.0 C685.1 258.3 686.6 262.7 686.0 266.0 L680.0 266.0 C679.4 262.7 680.9 258.3 683 255.0Z"/>
<rect x="690.3" y="255.7" width="1" height="2.5" fill="#3a3a20"/><path fill="#24461a" d="M690.8 245.7 C692.9 249.0 694.4 253.39999999999998 693.8 256.7 L687.8 256.7 C687.1999999999999 253.39999999999998 688.6999999999999 249.0 690.8 245.7Z"/>
<rect x="811.5" y="325.5" width="1" height="2.5" fill="#3a3a20"/><path fill="#24461a" d="M812 308.5 C815.15 313.9 817.4 321.1 816.5 326.5 L807.5 326.5 C806.6 321.1 808.85 313.9 812 308.5Z"/>
<rect x="819.1" y="324.3" width="1" height="2.5" fill="#3a3a20"/><path fill="#24461a" d="M819.6 307.3 C822.75 312.7 825.0 319.90000000000003 824.1 325.3 L815.1 325.3 C814.2 319.90000000000003 816.45 312.7 819.6 307.3Z"/>
<rect x="562" y="283" width="13" height="9" fill="#f3f6f8"/><rect x="570.1" y="283" width="4.9" height="9" fill="#d4dde2"/><path fill="#2e62c6" d="M562 283 L563.5 279 L573.9 279 L572.4 283 Z"/><rect x="564" y="285.5" width="1.6" height="2" fill="#8a98a6"/><rect x="567" y="285.5" width="1.6" height="2" fill="#8a98a6"/>
<rect x="579.5" y="282" width="10" height="7" fill="#f3f6f8"/><rect x="585.7" y="282" width="3.8" height="7" fill="#d4dde2"/><path fill="#2e62c6" d="M579.5 282 L581.0 278 L589.0 278 L587.5 282 Z"/><rect x="581.5" y="284.5" width="1.6" height="2" fill="#8a98a6"/><rect x="584.5" y="284.5" width="1.6" height="2" fill="#8a98a6"/>
<rect x="586.5" y="292" width="10.5" height="7.5" fill="#f3f6f8"/><rect x="593.0" y="292" width="4.0" height="7.5" fill="#d4dde2"/><path fill="#2e62c6" d="M586.5 292 L588.0 288 L596.4 288 L594.9 292 Z"/><rect x="588.5" y="294.5" width="1.6" height="2" fill="#8a98a6"/><rect x="591.5" y="294.5" width="1.6" height="2" fill="#8a98a6"/>
<rect x="555.5" y="285.0" width="1" height="2.5" fill="#3a3a20"/><path fill="#24461a" d="M556 272.0 C558.8 276.2 560.8 281.8 560.0 286.0 L552.0 286.0 C551.2 281.8 553.2 276.2 556 272.0Z"/>
<rect x="576.4" y="276.4" width="1.2" height="8.0" fill="#80703e"/><path fill="#3e6416" d="M573.0 277.4 C573.0 273.2 581.0 273.2 581.0 277.4 C579.4 278.7 574.6 278.7 573.0 277.4Z"/>
<rect x="590.2" y="278.8" width="1.2" height="8.0" fill="#80703e"/><path fill="#3e6416" d="M586.8 279.8 C586.8 275.6 594.8 275.6 594.8 279.8 C593.2 281.1 588.4 281.1 586.8 279.8Z"/>
<rect x="608.2" y="281.3" width="1.2" height="8.0" fill="#80703e"/><path fill="#3e6416" d="M604.8 282.3 C604.8 278.1 612.8 278.1 612.8 282.3 C611.2 283.6 606.4 283.6 604.8 282.3Z"/>
<rect x="632.7" y="262.2" width="1.2" height="8.0" fill="#80703e"/><path fill="#3e6416" d="M629.3 263.2 C629.3 259.0 637.3 259.0 637.3 263.2 C635.7 264.5 630.9 264.5 629.3 263.2Z"/>
<ellipse cx="596.6" cy="269.5" rx="2" ry="1.6" fill="#4b7414"/>
<ellipse cx="618" cy="265.6" rx="2" ry="1.6" fill="#4b7414"/>
<ellipse cx="627.4" cy="273.4" rx="2" ry="1.6" fill="#4b7414"/>
<rect x="599.9" y="271" width="3.2" height="2" fill="#a8703c"/>
<rect x="602.4" y="275" width="3.2" height="2" fill="#a8703c"/>
<rect x="611.15" y="269" width="3.2" height="2" fill="#a8703c"/>
<rect x="615.4" y="274.6" width="3.2" height="2" fill="#a8703c"/>
<rect x="623.4" y="266.6" width="3.2" height="2" fill="#a8703c"/>
<rect x="597.0" y="284" width="3.2" height="2" fill="#a8703c"/>
<rect x="602.4" y="288" width="3.2" height="2" fill="#a8703c"/>
<ellipse cx="590" cy="309" rx="2.5" ry="7.0" fill="#96bc34" opacity="0.8"/><rect x="589.5" y="309" width="1" height="9.8" fill="#80703e" opacity="0.7"/>
<ellipse cx="595" cy="311" rx="2.5" ry="6.5" fill="#96bc34" opacity="0.8"/><rect x="594.5" y="311" width="1" height="9.1" fill="#80703e" opacity="0.7"/>
<ellipse cx="621" cy="298" rx="2.5" ry="6.0" fill="#96bc34" opacity="0.8"/><rect x="620.5" y="298" width="1" height="8.4" fill="#80703e" opacity="0.7"/>
<rect x="563.4" y="333" width="11.6" height="6" fill="#f3f6f8"/><rect x="570.6" y="333" width="4.4" height="6" fill="#d4dde2"/><path fill="#2e62c6" d="M563.4 333 L564.9 329 L574.2 329 L572.7 333 Z"/><rect x="565.4" y="335.5" width="1.6" height="2" fill="#8a98a6"/><rect x="568.4" y="335.5" width="1.6" height="2" fill="#8a98a6"/>
<rect x="585" y="333" width="13.6" height="9" fill="#f3f6f8"/><rect x="593.4" y="333" width="5.2" height="9" fill="#d4dde2"/><path fill="#2e62c6" d="M585 333 L586.5 329 L597.4 329 L595.9 333 Z"/><rect x="587" y="335.5" width="1.6" height="2" fill="#8a98a6"/><rect x="590" y="335.5" width="1.6" height="2" fill="#8a98a6"/>
<rect x="606.4" y="345" width="10.6" height="6" fill="#f3f6f8"/><rect x="613.0" y="345" width="4.0" height="6" fill="#d4dde2"/><path fill="#2e62c6" d="M606.4 345 L607.9 341 L616.4 341 L614.9 345 Z"/><rect x="608.4" y="347.5" width="1.6" height="2" fill="#8a98a6"/><rect x="611.4" y="347.5" width="1.6" height="2" fill="#8a98a6"/>
<rect x="566.4" y="318.0" width="1.2" height="7.0" fill="#80703e"/><path fill="#3e6416" d="M563.2 319.0 C563.2 315.0 570.8 315.0 570.8 319.0 C569.3 320.2 564.7 320.2 563.2 319.0Z"/>
<rect x="574.4" y="314.0" width="1.2" height="7.0" fill="#80703e"/><path fill="#3e6416" d="M571.2 315.0 C571.2 311.0 578.8 311.0 578.8 315.0 C577.3 316.2 572.7 316.2 571.2 315.0Z"/>
<rect x="580.4" y="320.0" width="1.2" height="7.0" fill="#80703e"/><path fill="#3e6416" d="M577.2 321.0 C577.2 317.0 584.8 317.0 584.8 321.0 C583.3 322.2 578.7 322.2 577.2 321.0Z"/>
<rect x="604.8" y="331.3" width="1.2" height="7.0" fill="#80703e"/><path fill="#3e6416" d="M601.6 332.3 C601.6 328.3 609.2 328.3 609.2 332.3 C607.7 333.5 603.1 333.5 601.6 332.3Z"/>
<rect x="622.5" y="348.0" width="1" height="2.5" fill="#3a3a20"/><path fill="#24461a" d="M623 335.0 C625.45 339.2 627.2 344.8 626.5 349.0 L619.5 349.0 C618.8 344.8 620.55 339.2 623 335.0Z"/>
<rect x="458.0" y="359.5" width="1.2" height="7.0" fill="#80703e"/><path fill="#3e6416" d="M454.5 360.5 C454.5 356.3 462.7 356.3 462.7 360.5 C461.1 361.9 456.1 361.9 454.5 360.5Z"/>
<rect x="464.2" y="354.0" width="1.2" height="7.0" fill="#80703e"/><path fill="#3e6416" d="M460.7 355.0 C460.7 350.8 468.9 350.8 468.9 355.0 C467.3 356.4 462.3 356.4 460.7 355.0Z"/>
<rect x="471.3" y="359.5" width="1.2" height="7.0" fill="#80703e"/><path fill="#3e6416" d="M467.8 360.5 C467.8 356.3 476.0 356.3 476.0 360.5 C474.4 361.9 469.4 361.9 467.8 360.5Z"/>
<rect x="500.2" y="391.9" width="1.2" height="7.0" fill="#80703e"/><path fill="#3e6416" d="M496.7 392.9 C496.7 388.7 504.9 388.7 504.9 392.9 C503.3 394.3 498.3 394.3 496.7 392.9Z"/>
<rect x="486.1" y="352.0" width="1" height="2.5" fill="#3a3a20"/><path fill="#24461a" d="M486.6 340.0 C489.05 343.9 490.8 349.1 490.1 353.0 L483.1 353.0 C482.40000000000003 349.1 484.15000000000003 343.9 486.6 340.0Z"/>
<rect x="490.9" y="356.1" width="1" height="2.5" fill="#3a3a20"/><path fill="#24461a" d="M491.4 344.1 C493.84999999999997 348.0 495.59999999999997 353.20000000000005 494.9 357.1 L487.9 357.1 C487.2 353.20000000000005 488.95 348.0 491.4 344.1Z"/>
<rect x="455.75" y="405.2" width="1" height="2.5" fill="#3a3a20"/><path fill="#24461a" d="M456.25 393.2 C458.7 397.09999999999997 460.45 402.3 459.75 406.2 L452.75 406.2 C452.05 402.3 453.8 397.09999999999997 456.25 393.2Z"/>
<ellipse cx="450.4" cy="371" rx="6" ry="2.8" fill="#4b7414"/>
<ellipse cx="505" cy="364.3" rx="5.0" ry="8.0" fill="#96bc34" opacity="0.8"/><rect x="504.5" y="364.3" width="1" height="11.2" fill="#80703e" opacity="0.7"/>
<ellipse cx="439" cy="396.6" rx="5.0" ry="8.0" fill="#96bc34" opacity="0.8"/><rect x="438.5" y="396.6" width="1" height="11.2" fill="#80703e" opacity="0.7"/>
<ellipse cx="520.3" cy="390.3" rx="2.5" ry="6.0" fill="#96bc34" opacity="0.8"/><rect x="519.8" y="390.3" width="1" height="8.4" fill="#80703e" opacity="0.7"/>
<rect x="556.9" y="333.5" width="1.2" height="8.0" fill="#80703e"/><path fill="#3e6416" d="M553.5 334.5 C553.5 330.3 561.5 330.3 561.5 334.5 C559.9 335.8 555.1 335.8 553.5 334.5Z"/>
<path stroke="#7d8a8e" stroke-width="1.4" fill="none" d="M536 390 L566 396 M556 385 L570 392"/>
<rect x="534" y="384.5" width="16.5" height="5.5" rx="2.7" fill="#f4fafa"/><ellipse cx="542.2" cy="384.5" rx="8.2" ry="2.4" fill="#68e0d8"/>
<rect x="554.4" y="380.5" width="15.6" height="5" rx="2.5" fill="#f4fafa"/><ellipse cx="562.2" cy="380.5" rx="7.8" ry="2.2" fill="#68e0d8"/>
<path fill="#c9d0d4" d="M566 391 L585 390 L588 393 L588 400 L568 400.5 L566 397 Z"/><path fill="#aeb6ba" d="M566 394 L584 393.5 L584 400.5 L568 400.5 Z"/>
<rect x="663" y="287.5" width="7.5" height="5" rx="1" fill="#56606a"/>
<ellipse cx="702" cy="290" rx="5" ry="2.6" fill="#4b7414"/>
<ellipse cx="709" cy="292" rx="4" ry="2.2" fill="#3f6412"/>
<path fill="#8e979c" d="M664.6 306 L682 301.5 L684 304 L684 311 L667 315 Z"/><path fill="#bfc6ca" d="M664.6 306 L682 301.5 L682 304.5 L665 309 Z"/>
<rect x="656" y="311" width="11" height="7" fill="#f3f6f8"/><rect x="662.8" y="311" width="4.2" height="7" fill="#d4dde2"/><path fill="#2e62c6" d="M656 311 L657.5 307 L666.3 307 L664.8 311 Z"/><rect x="658" y="313.5" width="1.6" height="2" fill="#8a98a6"/><rect x="661" y="313.5" width="1.6" height="2" fill="#8a98a6"/>
<rect x="686" y="318" width="10.5" height="6" fill="#f3f6f8"/><rect x="692.5" y="318" width="4.0" height="6" fill="#d4dde2"/><path fill="#2e62c6" d="M686 318 L687.5 314 L695.9 314 L694.4 318 Z"/><rect x="688" y="320.5" width="1.6" height="2" fill="#8a98a6"/><rect x="691" y="320.5" width="1.6" height="2" fill="#8a98a6"/>
<ellipse cx="644" cy="308" rx="2.5" ry="7.5" fill="#96bc34" opacity="0.8"/><rect x="643.5" y="308" width="1" height="10.5" fill="#80703e" opacity="0.7"/>
<ellipse cx="649" cy="309.5" rx="2.5" ry="7.0" fill="#96bc34" opacity="0.8"/><rect x="648.5" y="309.5" width="1" height="9.8" fill="#80703e" opacity="0.7"/>
<ellipse cx="657" cy="338" rx="2.5" ry="6.0" fill="#96bc34" opacity="0.8"/><rect x="656.5" y="338" width="1" height="8.4" fill="#80703e" opacity="0.7"/>
<rect x="698.6" y="307.6" width="1.3" height="9.0" fill="#80703e"/><path fill="#3e6416" d="M695.0 308.7 C695.0 304.3 703.4 304.3 703.4 308.7 C701.7 310.0 696.7 310.0 695.0 308.7Z"/>
<rect x="715.0" y="309.3" width="1.3" height="9.0" fill="#80703e"/><path fill="#3e6416" d="M711.4 310.4 C711.4 306.0 719.8 306.0 719.8 310.4 C718.1 311.7 713.1 311.7 711.4 310.4Z"/>
<rect x="708.4" y="314.0" width="1.3" height="9.0" fill="#80703e"/><path fill="#3e6416" d="M704.8 315.1 C704.8 310.7 713.2 310.7 713.2 315.1 C711.5 316.4 706.5 316.4 704.8 315.1Z"/>
<rect x="722.0" y="314.6" width="1.3" height="9.0" fill="#80703e"/><path fill="#3e6416" d="M718.4 315.7 C718.4 311.3 726.8 311.3 726.8 315.7 C725.1 317.0 720.1 317.0 718.4 315.7Z"/>
<rect x="669.3" y="323.4" width="1.3" height="9.0" fill="#80703e"/><path fill="#3e6416" d="M665.7 324.5 C665.7 320.1 674.1 320.1 674.1 324.5 C672.4 325.8 667.4 325.8 665.7 324.5Z"/>
<rect x="663.4" y="328.0" width="1.3" height="9.0" fill="#80703e"/><path fill="#3e6416" d="M659.8 329.1 C659.8 324.7 668.2 324.7 668.2 329.1 C666.5 330.4 661.5 330.4 659.8 329.1Z"/>
<rect x="676.4" y="328.0" width="1.3" height="9.0" fill="#80703e"/><path fill="#3e6416" d="M672.8 329.1 C672.8 324.7 681.2 324.7 681.2 329.1 C679.5 330.4 674.5 330.4 672.8 329.1Z"/>
<rect x="717.2" y="334.5" width="1.6" height="13.0" fill="#80703e"/><path fill="#3e6416" d="M712.7 335.8 C712.7 330.3 723.3 330.3 723.3 335.8 C721.2 337.6 714.8 337.6 712.7 335.8Z"/>
<rect x="725.9" y="341.0" width="1.6" height="13.0" fill="#80703e"/><path fill="#3e6416" d="M721.4 342.3 C721.4 336.8 732.0 336.8 732.0 342.3 C729.9 344.1 723.5 344.1 721.4 342.3Z"/>
<ellipse cx="683.4" cy="322.8" rx="2.5" ry="2" fill="#4b7414"/>
<ellipse cx="738.4" cy="339.8" rx="4" ry="2.4" fill="#4b7414"/>
<path fill="#7a5836" d="M637.5 355 C638 351 642 348.5 646 348.5 C649 348.5 651 350 651.5 352 L650 355.5 C647 354 644 354 641 355.5 Q639 357.5 637.5 355 Z"/>
<path stroke="#555f66" stroke-width="2.2" fill="none" d="M661 366 L676 360.5"/>
<rect x="689" y="341" width="3.6" height="10" fill="#5b6670"/><rect x="687.5" y="338.5" width="8" height="3.5" fill="#8fa6b8"/>
<path fill="#dfe4e7" d="M675 355 L693 350.5 L704 355 L703 363 L686 367.5 L675 362 Z"/><path fill="#b8c0c5" d="M686 359 L704 355 L703 363 L686 367.5 Z"/>
<rect x="705.6" y="358" width="5" height="9" rx="1.5" fill="#4d5860"/><rect x="711.8" y="358.5" width="5" height="9" rx="1.5" fill="#4d5860"/>
<line x1="751.1" y1="305.8" x2="751.1" y2="335" stroke="#f4f8ee" stroke-width="1.1"/>
<path stroke="#f4f8ee" stroke-width="0.8" fill="none" d="M751.1 313.8 l-4 4 M751.1 313.8 l4 4 M751.1 313.8 l0 -5"/>
<line x1="766.9" y1="302.3" x2="766.9" y2="328" stroke="#f4f8ee" stroke-width="1.1"/>
<path stroke="#f4f8ee" stroke-width="0.8" fill="none" d="M766.9 310.3 l-4 4 M766.9 310.3 l4 4 M766.9 310.3 l0 -5"/>
<line x1="782.7" y1="311.6" x2="782.7" y2="341" stroke="#f4f8ee" stroke-width="1.1"/>
<path stroke="#f4f8ee" stroke-width="0.8" fill="none" d="M782.7 319.6 l-4 4 M782.7 319.6 l4 4 M782.7 319.6 l0 -5"/>
<line x1="798" y1="307" x2="798" y2="332.7" stroke="#f4f8ee" stroke-width="1.1"/>
<path stroke="#f4f8ee" stroke-width="0.8" fill="none" d="M798 315 l-4 4 M798 315 l4 4 M798 315 l0 -5"/>
<rect x="783.4" y="296.4" width="1.2" height="6.0" fill="#80703e"/><path fill="#3e6416" d="M780.2 297.4 C780.2 293.4 787.8 293.4 787.8 297.4 C786.3 298.6 781.7 298.6 780.2 297.4Z"/>
<rect x="789.8" y="291.7" width="1.2" height="6.0" fill="#80703e"/><path fill="#3e6416" d="M786.6 292.7 C786.6 288.7 794.2 288.7 794.2 292.7 C792.7 293.9 788.1 293.9 786.6 292.7Z"/>
<rect x="796.2" y="297.0" width="1.2" height="6.0" fill="#80703e"/><path fill="#3e6416" d="M793.0 298.0 C793.0 294.0 800.6 294.0 800.6 298.0 C799.1 299.2 794.5 299.2 793.0 298.0Z"/>
<ellipse cx="803.8" cy="291" rx="2.5" ry="1.8" fill="#4b7414"/>
<ellipse cx="737" cy="339.8" rx="4.5" ry="2.5" fill="#4b7414"/>
<ellipse cx="767.5" cy="350.3" rx="4.5" ry="2.5" fill="#4b7414"/>
<ellipse cx="816.7" cy="340.4" rx="6" ry="3" fill="#4b7414"/>
<rect x="789.3" y="356.7" width="1" height="2.5" fill="#3a3a20"/><path fill="#24461a" d="M789.8 347.7 C791.55 350.7 792.8 354.7 792.3 357.7 L787.3 357.7 C786.8 354.7 788.05 350.7 789.8 347.7Z"/>
<rect x="779.1" y="411.0" width="1.7" height="13.0" fill="#80703e"/><path fill="#3e6416" d="M774.3 412.4 C774.3 406.5 785.7 406.5 785.7 412.4 C783.4 414.3 776.6 414.3 774.3 412.4Z"/>
<rect x="789.7" y="404.0" width="1.7" height="13.0" fill="#80703e"/><path fill="#3e6416" d="M784.9 405.4 C784.9 399.5 796.3 399.5 796.3 405.4 C794.0 407.3 787.2 407.3 784.9 405.4Z"/>
<rect x="799.1" y="412.0" width="1.7" height="13.0" fill="#80703e"/><path fill="#3e6416" d="M794.3 413.4 C794.3 407.5 805.7 407.5 805.7 413.4 C803.4 415.3 796.6 415.3 794.3 413.4Z"/>
<rect x="772.1" y="429.0" width="1.7" height="13.0" fill="#80703e"/><path fill="#3e6416" d="M767.3 430.4 C767.3 424.5 778.7 424.5 778.7 430.4 C776.4 432.3 769.6 432.3 767.3 430.4Z"/>
<rect x="759.1" y="435.0" width="1.7" height="13.0" fill="#80703e"/><path fill="#3e6416" d="M754.3 436.4 C754.3 430.5 765.7 430.5 765.7 436.4 C763.4 438.3 756.6 438.3 754.3 436.4Z"/>
<rect x="413.5" y="424" width="26.3" height="9" fill="#f6efb4"/><rect x="413" y="432.5" width="31" height="2.6" fill="#1d2630"/><path fill="#3a4a62" d="M439.5 426 L442.5 426 L444.3 430 L444.3 434 L439.5 434 Z"/>
<rect x="481.1" y="417.6" width="1.8" height="11.0" fill="#80703e"/><path fill="#3e6416" d="M476.0 419.1 C476.0 412.8 488.0 412.8 488.0 419.1 C485.6 421.1 478.4 421.1 476.0 419.1Z"/>
<rect x="471.8" y="424.4" width="1.8" height="11.0" fill="#80703e"/><path fill="#3e6416" d="M466.7 425.9 C466.7 419.6 478.7 419.6 478.7 425.9 C476.3 427.9 469.1 427.9 466.7 425.9Z"/>
<rect x="491.7" y="424.6" width="1.8" height="11.0" fill="#80703e"/><path fill="#3e6416" d="M486.6 426.1 C486.6 419.8 498.6 419.8 498.6 426.1 C496.2 428.1 489.0 428.1 486.6 426.1Z"/>
<rect x="512.1" y="429.3" width="1.8" height="11.0" fill="#80703e"/><path fill="#3e6416" d="M507.0 430.8 C507.0 424.5 519.0 424.5 519.0 430.8 C516.6 432.8 509.4 432.8 507.0 430.8Z"/>
<rect x="502.8" y="437.5" width="1.8" height="11.0" fill="#80703e"/><path fill="#3e6416" d="M497.7 439.0 C497.7 432.7 509.7 432.7 509.7 439.0 C507.3 441.0 500.1 441.0 497.7 439.0Z"/>
<rect x="484.1" y="444.0" width="1.8" height="11.0" fill="#80703e"/><path fill="#3e6416" d="M479.0 445.5 C479.0 439.2 491.0 439.2 491.0 445.5 C488.6 447.5 481.4 447.5 479.0 445.5Z"/>
<rect x="448.3" y="449.8" width="1.8" height="11.0" fill="#80703e"/><path fill="#3e6416" d="M443.2 451.3 C443.2 445.0 455.2 445.0 455.2 451.3 C452.8 453.3 445.6 453.3 443.2 451.3Z"/>
<rect x="434.3" y="455.7" width="1.8" height="11.0" fill="#80703e"/><path fill="#3e6416" d="M429.2 457.2 C429.2 450.9 441.2 450.9 441.2 457.2 C438.8 459.2 431.6 459.2 429.2 457.2Z"/>
<rect x="465.0" y="488.0" width="1.8" height="11.0" fill="#80703e"/><path fill="#3e6416" d="M459.9 489.5 C459.9 483.2 471.9 483.2 471.9 489.5 C469.5 491.5 462.3 491.5 459.9 489.5Z"/>
<rect x="476.1" y="496.8" width="1.8" height="11.0" fill="#80703e"/><path fill="#3e6416" d="M471.0 498.3 C471.0 492.0 483.0 492.0 483.0 498.3 C480.6 500.3 473.4 500.3 471.0 498.3Z"/>
<rect x="562.1" y="447.0" width="1.8" height="11.0" fill="#80703e"/><path fill="#3e6416" d="M557.0 448.5 C557.0 442.2 569.0 442.2 569.0 448.5 C566.6 450.5 559.4 450.5 557.0 448.5Z"/>
<rect x="504.8" y="445.9" width="1.8" height="11.0" fill="#80703e"/><path fill="#3e6416" d="M499.7 447.4 C499.7 441.1 511.7 441.1 511.7 447.4 C509.3 449.4 502.1 449.4 499.7 447.4Z"/>
<rect x="527.1" y="441.0" width="1.8" height="11.0" fill="#80703e"/><path fill="#3e6416" d="M522.0 442.5 C522.0 436.2 534.0 436.2 534.0 442.5 C531.6 444.5 524.4 444.5 522.0 442.5Z"/>
<ellipse cx="464.5" cy="458.6" rx="3.5" ry="7.0" fill="#96bc34" opacity="0.8"/><rect x="464.0" y="458.6" width="1" height="9.8" fill="#80703e" opacity="0.7"/>
<rect x="446.5" y="499.0" width="1" height="2.5" fill="#3a3a20"/><path fill="#24461a" d="M447 486.0 C449.8 490.2 451.8 495.8 451.0 500.0 L443.0 500.0 C442.2 495.8 444.2 490.2 447 486.0Z"/>
<ellipse cx="547.3" cy="456.4" rx="3.5" ry="2" fill="#4b7414"/>
<rect x="563.5" y="433.0" width="1" height="2.5" fill="#3a3a20"/><path fill="#24461a" d="M564 418.0 C566.8 422.8 568.8 429.2 568.0 434.0 L560.0 434.0 C559.2 429.2 561.2 422.8 564 418.0Z"/>
<rect x="573.3" y="440.0" width="1.3" height="9.0" fill="#80703e"/><path fill="#3e6416" d="M569.5 441.1 C569.5 436.4 578.5 436.4 578.5 441.1 C576.7 442.6 571.3 442.6 569.5 441.1Z"/>
<path fill="none" stroke="#e9f27e" stroke-width="2" d="M490.5 454.6 L532.7 461 L553.7 462.3 L557.3 474"/>
<rect x="514" y="451.7" width="18" height="22.3" fill="#f1f3f5"/><rect x="524.8" y="451.7" width="7.2" height="22.3" fill="#d6dde2"/><rect x="516.5" y="454.2" width="1.6" height="2.2" fill="#8e9aa8"/><rect x="520.0" y="454.2" width="1.6" height="2.2" fill="#8e9aa8"/><rect x="527.3" y="454.2" width="1.6" height="2.2" fill="#8e9aa8"/><rect x="516.5" y="458.7" width="1.6" height="2.2" fill="#8e9aa8"/><rect x="520.0" y="458.7" width="1.6" height="2.2" fill="#8e9aa8"/><rect x="527.3" y="458.7" width="1.6" height="2.2" fill="#8e9aa8"/><rect x="516.5" y="463.2" width="1.6" height="2.2" fill="#8e9aa8"/><rect x="520.0" y="463.2" width="1.6" height="2.2" fill="#8e9aa8"/><rect x="527.3" y="463.2" width="1.6" height="2.2" fill="#8e9aa8"/><rect x="516.5" y="467.7" width="1.6" height="2.2" fill="#8e9aa8"/><rect x="520.0" y="467.7" width="1.6" height="2.2" fill="#8e9aa8"/><rect x="527.3" y="467.7" width="1.6" height="2.2" fill="#8e9aa8"/>
<rect x="492.8" y="459.5" width="18.8" height="10" fill="#f1f3f5"/><rect x="504.1" y="459.5" width="7.5" height="10" fill="#d6dde2"/><path fill="#2e62c6" d="M492.8 459.5 L494.8 454.5 L506.1 454.5 L504.1 459.5 Z"/><rect x="495.3" y="462.0" width="1.6" height="2.2" fill="#8e9aa8"/><rect x="498.8" y="462.0" width="1.6" height="2.2" fill="#8e9aa8"/><rect x="506.6" y="462.0" width="1.6" height="2.2" fill="#8e9aa8"/>
<rect x="496.3" y="468" width="18.7" height="20" fill="#f1f3f5"/><rect x="507.5" y="468" width="7.5" height="20" fill="#d6dde2"/><rect x="498.8" y="470.5" width="1.6" height="2.2" fill="#8e9aa8"/><rect x="502.3" y="470.5" width="1.6" height="2.2" fill="#8e9aa8"/><rect x="510.0" y="470.5" width="1.6" height="2.2" fill="#8e9aa8"/><rect x="498.8" y="475.0" width="1.6" height="2.2" fill="#8e9aa8"/><rect x="502.3" y="475.0" width="1.6" height="2.2" fill="#8e9aa8"/><rect x="510.0" y="475.0" width="1.6" height="2.2" fill="#8e9aa8"/><rect x="498.8" y="479.5" width="1.6" height="2.2" fill="#8e9aa8"/><rect x="502.3" y="479.5" width="1.6" height="2.2" fill="#8e9aa8"/><rect x="510.0" y="479.5" width="1.6" height="2.2" fill="#8e9aa8"/>
<rect x="517.4" y="472.8" width="17.6" height="22.2" fill="#f1f3f5"/><rect x="528.0" y="472.8" width="7.0" height="22.2" fill="#d6dde2"/><rect x="519.9" y="475.3" width="1.6" height="2.2" fill="#8e9aa8"/><rect x="523.4" y="475.3" width="1.6" height="2.2" fill="#8e9aa8"/><rect x="530.5" y="475.3" width="1.6" height="2.2" fill="#8e9aa8"/><rect x="519.9" y="479.8" width="1.6" height="2.2" fill="#8e9aa8"/><rect x="523.4" y="479.8" width="1.6" height="2.2" fill="#8e9aa8"/><rect x="530.5" y="479.8" width="1.6" height="2.2" fill="#8e9aa8"/><rect x="519.9" y="484.3" width="1.6" height="2.2" fill="#8e9aa8"/><rect x="523.4" y="484.3" width="1.6" height="2.2" fill="#8e9aa8"/><rect x="530.5" y="484.3" width="1.6" height="2.2" fill="#8e9aa8"/><rect x="519.9" y="488.8" width="1.6" height="2.2" fill="#8e9aa8"/><rect x="523.4" y="488.8" width="1.6" height="2.2" fill="#8e9aa8"/><rect x="530.5" y="488.8" width="1.6" height="2.2" fill="#8e9aa8"/>
<rect x="560.8" y="467.5" width="17.6" height="21.7" fill="#f1f3f5"/><rect x="571.4" y="467.5" width="7.0" height="21.7" fill="#d6dde2"/><rect x="563.3" y="470.0" width="1.6" height="2.2" fill="#8e9aa8"/><rect x="566.8" y="470.0" width="1.6" height="2.2" fill="#8e9aa8"/><rect x="573.9" y="470.0" width="1.6" height="2.2" fill="#8e9aa8"/><rect x="563.3" y="474.5" width="1.6" height="2.2" fill="#8e9aa8"/><rect x="566.8" y="474.5" width="1.6" height="2.2" fill="#8e9aa8"/><rect x="573.9" y="474.5" width="1.6" height="2.2" fill="#8e9aa8"/><rect x="563.3" y="479.0" width="1.6" height="2.2" fill="#8e9aa8"/><rect x="566.8" y="479.0" width="1.6" height="2.2" fill="#8e9aa8"/><rect x="573.9" y="479.0" width="1.6" height="2.2" fill="#8e9aa8"/><rect x="563.3" y="483.5" width="1.6" height="2.2" fill="#8e9aa8"/><rect x="566.8" y="483.5" width="1.6" height="2.2" fill="#8e9aa8"/><rect x="573.9" y="483.5" width="1.6" height="2.2" fill="#8e9aa8"/>
<rect x="533.8" y="469.8" width="17.6" height="10" fill="#f1f3f5"/><rect x="544.4" y="469.8" width="7.0" height="10" fill="#d6dde2"/><path fill="#2e62c6" d="M533.8 469.8 L535.8 464.8 L546.4 464.8 L544.4 469.8 Z"/><rect x="536.3" y="472.3" width="1.6" height="2.2" fill="#8e9aa8"/><rect x="539.8" y="472.3" width="1.6" height="2.2" fill="#8e9aa8"/><rect x="546.9" y="472.3" width="1.6" height="2.2" fill="#8e9aa8"/>
<rect x="466.4" y="476.5" width="21.7" height="12.7" fill="#f1f3f5"/><rect x="479.4" y="476.5" width="8.7" height="12.7" fill="#d6dde2"/><path fill="#2e62c6" d="M466.4 476.5 L468.4 471.5 L481.4 471.5 L479.4 476.5 Z"/><rect x="468.9" y="479.0" width="1.6" height="2.2" fill="#8e9aa8"/><rect x="472.4" y="479.0" width="1.6" height="2.2" fill="#8e9aa8"/><rect x="481.9" y="479.0" width="1.6" height="2.2" fill="#8e9aa8"/><rect x="468.9" y="483.5" width="1.6" height="2.2" fill="#8e9aa8"/><rect x="472.4" y="483.5" width="1.6" height="2.2" fill="#8e9aa8"/><rect x="481.9" y="483.5" width="1.6" height="2.2" fill="#8e9aa8"/>
<rect x="500.4" y="491.9" width="21.1" height="13.1" fill="#f1f3f5"/><rect x="513.1" y="491.9" width="8.4" height="13.1" fill="#d6dde2"/><path fill="#2e62c6" d="M500.4 491.9 L502.4 486.9 L515.1 486.9 L513.1 491.9 Z"/><rect x="502.9" y="494.4" width="1.6" height="2.2" fill="#8e9aa8"/><rect x="506.4" y="494.4" width="1.6" height="2.2" fill="#8e9aa8"/><rect x="515.6" y="494.4" width="1.6" height="2.2" fill="#8e9aa8"/><rect x="502.9" y="498.9" width="1.6" height="2.2" fill="#8e9aa8"/><rect x="506.4" y="498.9" width="1.6" height="2.2" fill="#8e9aa8"/><rect x="515.6" y="498.9" width="1.6" height="2.2" fill="#8e9aa8"/>
<rect x="547.3" y="486" width="19.3" height="12.6" fill="#f1f3f5"/><rect x="558.9" y="486" width="7.7" height="12.6" fill="#d6dde2"/><path fill="#2e62c6" d="M547.3 486 L549.3 481 L560.9 481 L558.9 486 Z"/><rect x="549.8" y="488.5" width="1.6" height="2.2" fill="#8e9aa8"/><rect x="553.3" y="488.5" width="1.6" height="2.2" fill="#8e9aa8"/><rect x="561.4" y="488.5" width="1.6" height="2.2" fill="#8e9aa8"/><rect x="549.8" y="493.0" width="1.6" height="2.2" fill="#8e9aa8"/><rect x="553.3" y="493.0" width="1.6" height="2.2" fill="#8e9aa8"/><rect x="561.4" y="493.0" width="1.6" height="2.2" fill="#8e9aa8"/>
<path fill="#f4f6f8" d="M555 515 C556 512 559 510.5 562 510.5 L567 510.5 C570 511 572 512.5 573.7 514.5 L573.7 517.5 L555 518.5 Z"/><rect x="558.5" y="511.5" width="9" height="2.5" fill="#3a4450"/>
<path fill="#3b6e67" d="M509.6 188.4 C510 183 516 181 522.5 181.4 C535 181.5 542 183 550.6 182.6 C560 182 566 179 574 177.9 C585 176 590 174.5 597.5 174.4 C610 174.5 618 177 621 181.4 C628 185 634 190 632.6 195.5 C632 201 631 204 628 206 C624 209 618 209.5 614 209.5 L560 205 L512 195 C510 193 509.5 191 509.6 188.4 Z"/>
<path fill="#64a898" d="M420.5 202.5 C419 195 428 189 438 187.3 C446 184 452 180.5 461.6 181 C470 181 476 182 480.3 183.7 C490 187 496 192 503.7 193.1 C512 193 520 190 527 190.8 C538 191 546 191 550.6 193 C556 195 558 198 555 201 C548 206 535 210 527 211.9 C515 215 510 218 503.7 218.9 C496 220 492 220.5 487.3 220 C478 219 474 215 468.6 215.4 C460 216 452 216 445 215.4 C435 215 425 214 424 211.9 C421 208 421 205 420.5 202.5 Z"/>
<path fill="#9dd3c3" d="M524.8 211.9 C524 208 528 205.5 531.9 204.8 C538 202 545 200.5 550.6 200.2 C560 200 566 202 574 202.5 C583 202.5 590 200.5 597.5 200.2 C604 200.5 608 204 610.4 207.2 C613 210 613 214 611.5 216.6 C608 221 603 222.5 597.5 223.6 C588 225 580 228 574 228.3 C566 228.5 558 227 550.6 226 C543 225 536 223 531.9 221.2 C527 219 525 215 524.8 211.9 Z"/>
<path fill="#64aa97" d="M851.8 186 C856 181 862 179 868 178.8 C876 178.5 883 181.5 890 181.7 C897 182 902 178.5 907.5 178.8 C913 179 917 181.5 917.7 184.7 C919 188 919.5 190 918.4 192 C917 195 914.5 196 911.8 196.4 C906 197.5 902 198 897 198.6 C892 199.5 889 201.5 885.5 201.5 C881 201.8 878.5 201.3 876.7 200.8 Z"/>
<path fill="#9dd3c2" d="M785.9 195 C787 191.5 790 189.5 794.6 189 C802 187.5 809 186.5 816.6 186 C822 185.5 826 184.7 831.3 184.7 C837 184.7 841 187 846 187.6 C853 188.5 861 187.5 868 189 C873 190 876.5 192 878 195 C879.5 197 880 199 879.6 200.8 C879 203.5 876.5 205.5 873.7 206.7 C869 208.5 864.5 209 860.6 208.8 C853 208.5 845 206 838.6 206.7 C833 207.3 829 210 824 211 C819 212.2 814 214 809.3 214 C803 214.2 798 213.5 794.6 211.8 C790 209.5 787.5 207.5 786.6 205 C785.6 201.5 785.5 198 785.9 195 Z"/></g>
<circle cx="563.4" cy="355.2" r="4.6" fill="#ffffff" stroke="#e6f0ee" stroke-width="0.8"/>
<circle cx="606" cy="360.6" r="4.6" fill="#ffffff" stroke="#e6f0ee" stroke-width="0.8"/>
<circle cx="609" cy="377" r="4.6" fill="#ffffff" stroke="#e6f0ee" stroke-width="0.8"/>
<circle cx="608.8" cy="467.7" r="4.6" fill="#ffffff" stroke="#e6f0ee" stroke-width="0.8"/>
<circle cx="646" cy="475.4" r="4.6" fill="#ffffff" stroke="#e6f0ee" stroke-width="0.8"/>
<circle cx="658.8" cy="550.2" r="4.6" fill="#ffffff" stroke="#e6f0ee" stroke-width="0.8"/>
<circle cx="662" cy="403.3" r="4.6" fill="#ffffff" stroke="#e6f0ee" stroke-width="0.8"/>
<circle cx="619.7" cy="417" r="4.6" fill="#ffffff" stroke="#e6f0ee" stroke-width="0.8"/>
<circle cx="650.3" cy="276.2" r="4.6" fill="#ffffff" stroke="#e6f0ee" stroke-width="0.8"/>
<circle cx="706" cy="255.7" r="4.6" fill="#ffffff" stroke="#e6f0ee" stroke-width="0.8"/>
<circle cx="762.3" cy="258.4" r="4.6" fill="#ffffff" stroke="#e6f0ee" stroke-width="0.8"/>
<line class="pl" x1="482" y1="249" x2="536.9" y2="350.7"/>
<line class="pl" x1="563.4" y1="355.2" x2="479" y2="387"/>
<line class="pl" x1="606" y1="360.6" x2="456.6" y2="632.7"/>
<line class="pl" x1="609" y1="377" x2="504" y2="603.4"/>
<line class="pl" x1="608.8" y1="467.7" x2="578.4" y2="644.5"/>
<line class="pl" x1="646" y1="475.4" x2="640" y2="605.4"/>
<line class="pl" x1="658.8" y1="550.2" x2="795" y2="634.7"/>
<line class="pl" x1="662" y1="403.3" x2="814" y2="384"/>
<line class="pl" x1="619.7" y1="417" x2="794" y2="457"/>
<line class="pl" x1="853" y1="289.6" x2="662" y2="341"/>
<line class="pl" x1="852.6" y1="335.3" x2="666" y2="388"/>
<line class="pl" x1="897" y1="225.4" x2="849" y2="265.5"/>
<line class="pl" x1="650.3" y1="276.2" x2="656.6" y2="214.7"/>
<line class="pl" x1="706" y1="255.7" x2="710" y2="217.6"/>
<line class="pl" x1="762.3" y1="258.4" x2="759" y2="193.7"/>
</svg>
</body></html>
